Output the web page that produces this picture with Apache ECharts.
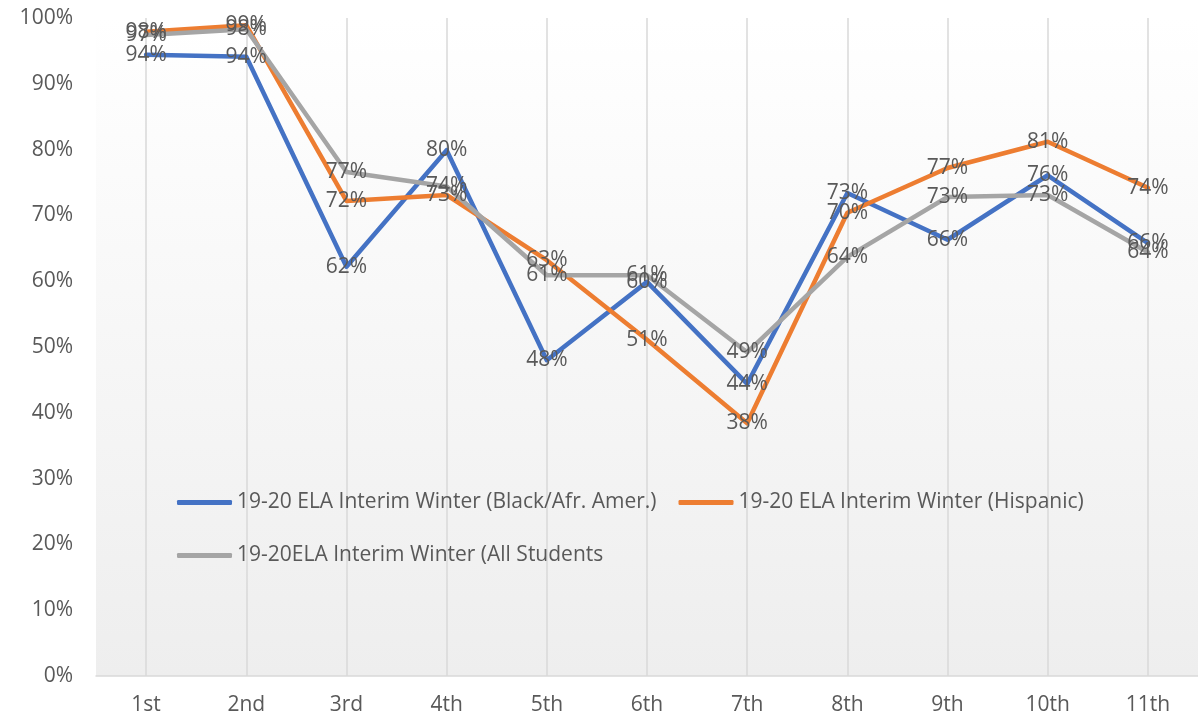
<!DOCTYPE html>
<html>
<head>
<meta charset="utf-8">
<style>
  html, body { margin: 0; padding: 0; background: #ffffff; }
  #chart { width: 1198px; height: 722px; }
</style>
<script src="https://cdn.jsdelivr.net/npm/echarts@6/dist/echarts.min.js"></script>
</head>
<body>
<div id="chart"></div>
<script>
// Grade levels on the category axis
const grades = ['1st', '2nd', '3rd', '4th', '5th', '6th', '7th', '8th', '9th', '10th', '11th'];

// Percent of students meeting the ELA interim benchmark, by grade
const blackAfrAmer = [94.4, 94.1, 62.2, 79.9, 48.0, 59.9, 44.4, 73.4, 66.3, 76.1, 65.8];
const hispanic     = [97.9, 98.9, 72.2, 73.1, 63.2, 51.1, 38.4, 70.4, 77.2, 81.2, 74.2];
const allStudents  = [97.4, 98.3, 76.6, 74.4, 60.9, 60.9, 49.2, 63.7, 72.8, 73.1, 64.4];

const seriesNames = [
  '19-20 ELA Interim Winter (Black/Afr. Amer.)',
  '19-20 ELA Interim Winter (Hispanic)',
  '19-20ELA Interim Winter (All Students'
];

const FONT = '"Open Sans", "Noto Sans", sans-serif';
const TEXT = '#595959';
const COLORS = ['#4472C4', '#ED7D31', '#A5A5A5'];
const FS = 21;

function lineSeries(name, data, color) {
  return {
    name: name,
    type: 'line',
    data: data,
    symbol: 'circle',
    symbolSize: 0,
    showSymbol: true,
    color: color,
    itemStyle: { color: color },
    lineStyle: { width: 4.5, color: color, cap: 'round', join: 'round' },
    label: {
      show: true,
      position: 'inside',
      offset: [0, 2],
      formatter: p => Math.round(p.value) + '%',
      color: TEXT,
      fontFamily: FONT,
      fontSize: FS
    },
    labelLayout: { hideOverlap: false },
    emphasis: { disabled: true },
    animation: false
  };
}

const legendBase = {
  left: 177,
  padding: 0,
  orient: 'horizontal',
  icon: 'roundRect',
  itemWidth: 55,
  itemHeight: 5,
  itemGap: 22,
  textStyle: { color: TEXT, fontFamily: FONT, fontSize: FS }
};

const option = {
  backgroundColor: '#ffffff',
  animation: false,
  grid: {
    left: 96,
    top: 18,
    width: 1104,
    bottom: 46,
    show: true,
    borderWidth: 0,
    backgroundColor: {
      type: 'linear', x: 0, y: 0, x2: 0, y2: 1,
      colorStops: [
        { offset: 0, color: '#ffffff' },
        { offset: 1, color: '#eeeeee' }
      ]
    }
  },
  legend: [
    Object.assign({}, legendBase, { data: [seriesNames[0], seriesNames[1]], top: 492 }),
    Object.assign({}, legendBase, { data: [seriesNames[2]], top: 545 })
  ],
  xAxis: {
    type: 'category',
    data: grades,
    boundaryGap: true,
    axisLine: { show: true, lineStyle: { color: '#d9d9d9', width: 1.5 } },
    axisTick: { show: false },
    axisLabel: { color: TEXT, fontFamily: FONT, fontSize: FS, margin: 19 },
    splitLine: { show: true, alignWithLabel: true, lineStyle: { color: '#d9d9d9', width: 1.5 } }
  },
  yAxis: {
    type: 'value',
    min: 0,
    max: 100,
    interval: 10,
    axisLine: { show: false },
    axisTick: { show: false },
    splitLine: { show: false },
    axisLabel: {
      formatter: '{value}%',
      color: TEXT,
      fontFamily: FONT,
      fontSize: FS,
      margin: 23
    }
  },
  series: [
    lineSeries(seriesNames[0], blackAfrAmer, COLORS[0]),
    lineSeries(seriesNames[1], hispanic, COLORS[1]),
    lineSeries(seriesNames[2], allStudents, COLORS[2])
  ]
};

const chart = echarts.init(document.getElementById('chart'), null, { renderer: 'canvas' });
chart.setOption(option);
</script>
</body>
</html>
